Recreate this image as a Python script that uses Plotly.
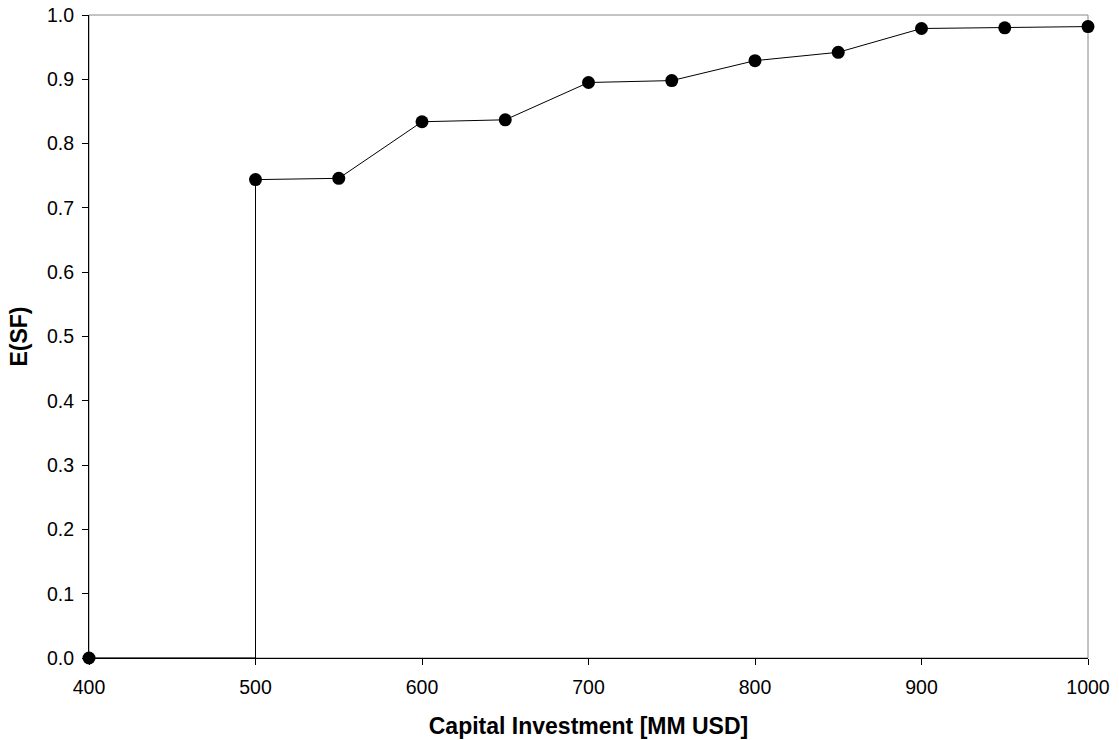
import plotly.graph_objects as go

capital = [400, 500, 500, 550, 600, 650, 700, 750, 800, 850, 900, 950, 1000]
esf = [0.0, 0.0, 0.744, 0.746, 0.834, 0.837, 0.895, 0.898, 0.929, 0.942, 0.979, 0.980, 0.982]
show_marker = [True, False, True, True, True, True, True, True, True, True, True, True, True]

x_ticks = [400, 500, 600, 700, 800, 900, 1000]
y_ticks = [0.0, 0.1, 0.2, 0.3, 0.4, 0.5, 0.6, 0.7, 0.8, 0.9, 1.0]

fig = go.Figure()
fig.add_trace(go.Scatter(
    x=capital, y=esf, mode="lines+markers",
    line=dict(color="black", width=1),
    marker=dict(color="black", opacity=1, size=[13 if s else 0 for s in show_marker],
                line=dict(width=0)),
    cliponaxis=False, showlegend=False,
))

font = "Liberation Sans, Arial, sans-serif"
fig.update_layout(
    width=1119, height=740,
    margin=dict(l=89, r=31, t=15, b=82, pad=0),
    plot_bgcolor="white", paper_bgcolor="white",
    font=dict(family=font, size=19.5, color="black"),
    shapes=[dict(type="rect", xref="paper", yref="paper", x0=0, y0=0, x1=1, y1=1,
                 line=dict(color="#888888", width=1), layer="below")],
)
fig.update_xaxes(
    range=[400, 1000], tickvals=x_ticks, ticktext=[str(v) for v in x_ticks],
    showgrid=False, zeroline=False, showline=True, linecolor="black", linewidth=1,
    ticks="outside", ticklen=6, tickcolor="black", ticklabelstandoff=6, automargin=False,
    title=dict(text="<b>Capital Investment [MM USD]</b>", font=dict(size=23), standoff=20),
)
fig.update_yaxes(
    range=[0, 1.0], tickvals=y_ticks, ticktext=[f"{v:.1f}" for v in y_ticks],
    showgrid=False, zeroline=False, showline=True, linecolor="black", linewidth=1,
    ticks="outside", ticklen=6, tickcolor="black", ticklabelstandoff=4, automargin=False,
    title=dict(text="<b>E(SF)</b>", font=dict(size=23), standoff=12),
)
fig.write_html("out.html", config={"displayModeBar": False},
               post_script="document.body.style.margin='0';")
